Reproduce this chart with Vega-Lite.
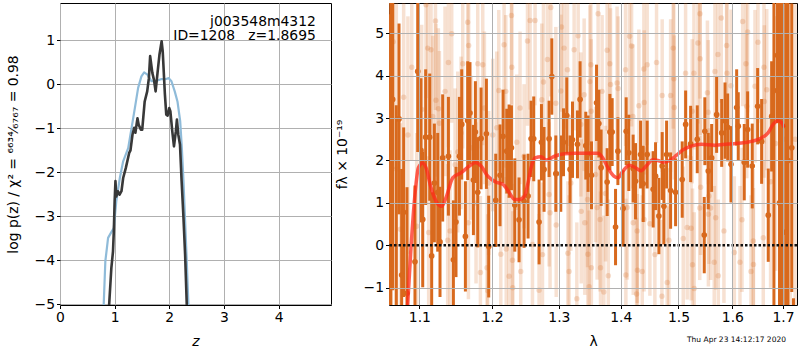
{
 "$schema": "https://vega.github.io/schema/vega-lite/v6.json",
 "padding": {"left": 5, "top": 2, "right": 0, "bottom": 0},
 "background": "white",
 "config": {
  "font": "DejaVu Sans",
  "view": {"stroke": "#000", "strokeWidth": 1},
  "axis": {"labelFont": "DejaVu Sans", "labelFontSize": 13.9, "labelColor": "#000", "titleFont": "DejaVu Sans", "titleFontSize": 13.9, "titleFontWeight": "normal", "titleColor": "#000", "tickColor": "#000", "tickSize": 3.5, "tickWidth": 1, "domain": false, "gridColor": "#b0b0b0", "gridWidth": 1, "labelPadding": 2, "labelFlush": false, "labelOverlap": false}
 },
 "datasets": {
  "blue": [
   {"z":0.79,"lp":-5.5},{"z":0.80,"lp":-5.0},{"z":0.83,"lp":-4.02},{"z":0.88,"lp":-3.49},{"z":0.94,"lp":-3.36},{"z":0.985,"lp":-3.27},{"z":1.03,"lp":-2.66},{"z":1.095,"lp":-2.13},{"z":1.156,"lp":-1.75},{"z":1.248,"lp":-1.45},{"z":1.31,"lp":-0.99},{"z":1.37,"lp":-0.54},{"z":1.43,"lp":-0.08},{"z":1.49,"lp":0.18},{"z":1.54,"lp":0.27},{"z":1.60,"lp":0.22},{"z":1.675,"lp":0.07},{"z":1.77,"lp":0.08},{"z":1.86,"lp":0.12},{"z":1.94,"lp":0.12},{"z":1.99,"lp":0.14},{"z":2.04,"lp":0.07},{"z":2.10,"lp":-0.16},{"z":2.15,"lp":-0.39},{"z":2.20,"lp":-0.84},{"z":2.23,"lp":-1.45},{"z":2.26,"lp":-2.2},{"z":2.29,"lp":-3.11},{"z":2.32,"lp":-4.02},{"z":2.35,"lp":-5.0},{"z":2.36,"lp":-5.5}
  ],
  "dark": [
   {"z":0.89,"lp":-5.5},{"z":0.90,"lp":-5.0},{"z":0.94,"lp":-4.17},{"z":0.97,"lp":-3.80},{"z":0.985,"lp":-3.34},{"z":1.00,"lp":-2.66},{"z":1.015,"lp":-2.2},{"z":1.03,"lp":-2.55},{"z":1.06,"lp":-2.43},{"z":1.09,"lp":-2.51},{"z":1.125,"lp":-2.43},{"z":1.156,"lp":-2.13},{"z":1.205,"lp":-1.90},{"z":1.266,"lp":-1.56},{"z":1.29,"lp":-1.5},{"z":1.327,"lp":-1.14},{"z":1.358,"lp":-0.99},{"z":1.38,"lp":-1.1},{"z":1.418,"lp":-0.77},{"z":1.44,"lp":-0.92},{"z":1.48,"lp":-1.03},{"z":1.505,"lp":-1.03},{"z":1.55,"lp":-0.39},{"z":1.596,"lp":-0.16},{"z":1.627,"lp":0.14},{"z":1.65,"lp":0.64},{"z":1.69,"lp":0.26},{"z":1.72,"lp":0.10},{"z":1.75,"lp":-0.16},{"z":1.785,"lp":0.26},{"z":1.82,"lp":0.67},{"z":1.86,"lp":0.98},{"z":1.88,"lp":0.75},{"z":1.92,"lp":-0.23},{"z":1.945,"lp":-0.69},{"z":1.97,"lp":-0.71},{"z":2.00,"lp":-0.54},{"z":2.02,"lp":-0.61},{"z":2.055,"lp":-1.07},{"z":2.086,"lp":-1.41},{"z":2.12,"lp":-1.07},{"z":2.14,"lp":-0.80},{"z":2.165,"lp":-1.14},{"z":2.196,"lp":-1.37},{"z":2.226,"lp":-2.2},{"z":2.257,"lp":-2.96},{"z":2.29,"lp":-3.87},{"z":2.32,"lp":-5.0},{"z":2.33,"lp":-5.5}
  ],
  "faint": [
   {"lam":1.0600,"f":2.5,"e":6},{"lam":1.0615,"f":1.0,"e":6},{"lam":1.0632,"f":-0.53,"e":4},{"lam":1.0660,"f":4.8,"e":3},{"lam":1.0700,"f":1.8,"e":4},{"lam":1.0753,"f":0.38,"e":2.5},{"lam":1.0795,"f":3.49,"e":2.5},{"lam":1.0850,"f":2.6,"e":2.8},{"lam":1.0900,"f":4.2,"e":2.2},{"lam":1.0965,"f":0.45,"e":2.2},
   {"lam":1.1030,"f":3.2,"e":2.0},{"lam":1.1087,"f":5.67,"e":2.2},{"lam":1.1110,"f":4.65,"e":2.0},{"lam":1.1123,"f":0.30,"e":1.8},{"lam":1.1154,"f":4.61,"e":2.0},{"lam":1.1177,"f":3.04,"e":1.9},{"lam":1.1214,"f":5.29,"e":2.1},{"lam":1.1220,"f":3.42,"e":1.8},{"lam":1.1253,"f":3.22,"e":1.9},{"lam":1.1267,"f":2.88,"e":1.7},
   {"lam":1.1343,"f":3.63,"e":2.0},{"lam":1.1379,"f":0.12,"e":1.8},{"lam":1.1389,"f":4.31,"e":2.0},{"lam":1.1411,"f":0.34,"e":1.9},{"lam":1.1434,"f":4.99,"e":2.1},{"lam":1.1480,"f":1.9,"e":1.8},{"lam":1.1517,"f":2.2,"e":1.9},{"lam":1.1563,"f":2.65,"e":1.8},{"lam":1.1586,"f":4.28,"e":2.0},{"lam":1.1655,"f":5.26,"e":2.2},
   {"lam":1.1665,"f":0.53,"e":1.8},{"lam":1.1668,"f":4.71,"e":2.0},{"lam":1.1702,"f":2.3,"e":1.7},{"lam":1.1772,"f":1.0,"e":1.9},{"lam":1.1796,"f":4.28,"e":2.0},{"lam":1.1834,"f":-0.64,"e":1.8},{"lam":1.1867,"f":4.26,"e":1.9},{"lam":1.1891,"f":3.24,"e":1.8},{"lam":1.1928,"f":-0.53,"e":1.9},{"lam":1.1938,"f":-1.07,"e":1.8},
   {"lam":1.1952,"f":1.47,"e":1.7},{"lam":1.2010,"f":2.6,"e":1.8},{"lam":1.2068,"f":2.77,"e":1.8},{"lam":1.2097,"f":3.65,"e":1.9},{"lam":1.2126,"f":-0.21,"e":1.8},{"lam":1.2174,"f":4.73,"e":2.0},{"lam":1.2199,"f":3.63,"e":1.8},{"lam":1.2205,"f":-0.09,"e":1.7},{"lam":1.2247,"f":-0.73,"e":1.9},{"lam":1.2282,"f":5.42,"e":2.1},
   {"lam":1.2287,"f":4.2,"e":1.9},{"lam":1.2297,"f":-0.35,"e":1.8},{"lam":1.2300,"f":-1.0,"e":1.8},{"lam":1.2360,"f":2.43,"e":1.6},{"lam":1.2409,"f":3.24,"e":1.8},{"lam":1.2419,"f":-0.62,"e":1.8},{"lam":1.2469,"f":2.10,"e":1.7},{"lam":1.2520,"f":4.82,"e":2.0},{"lam":1.2559,"f":5.3,"e":2.1},{"lam":1.2595,"f":0.02,"e":1.7},
   {"lam":1.2634,"f":5.3,"e":2.0},{"lam":1.2695,"f":-1.06,"e":1.8},{"lam":1.2736,"f":3.43,"e":1.8},{"lam":1.2747,"f":-0.22,"e":1.7},{"lam":1.2762,"f":3.85,"e":1.9},{"lam":1.2823,"f":4.38,"e":1.9},{"lam":1.2848,"f":1.2,"e":1.7},{"lam":1.2863,"f":0.77,"e":1.8},{"lam":1.2874,"f":5.61,"e":2.1},{"lam":1.2952,"f":3.35,"e":1.8},
   {"lam":1.2958,"f":0.48,"e":1.7},{"lam":1.3030,"f":3.64,"e":1.8},{"lam":1.3040,"f":5.15,"e":2.0},{"lam":1.3081,"f":4.65,"e":1.9},{"lam":1.3134,"f":4.14,"e":1.8},{"lam":1.3140,"f":-0.19,"e":1.7},{"lam":1.3159,"f":-0.62,"e":1.8},{"lam":1.3187,"f":1.47,"e":1.6},{"lam":1.3239,"f":4.61,"e":1.9},{"lam":1.3282,"f":-1.26,"e":1.8},
   {"lam":1.3303,"f":4.94,"e":2.0},{"lam":1.3346,"f":2.85,"e":1.7},{"lam":1.3352,"f":0.8,"e":1.7},{"lam":1.3399,"f":3.55,"e":1.8},{"lam":1.3410,"f":0.53,"e":1.7},{"lam":1.3453,"f":1.08,"e":1.6},{"lam":1.3459,"f":-0.21,"e":1.8},{"lam":1.3479,"f":-0.98,"e":1.8},{"lam":1.3490,"f":3.86,"e":1.8},{"lam":1.3507,"f":4.26,"e":1.9},
   {"lam":1.3512,"f":3.16,"e":1.7},{"lam":1.3515,"f":-0.53,"e":1.8},{"lam":1.3583,"f":1.67,"e":1.6},{"lam":1.3609,"f":0.89,"e":1.7},{"lam":1.3625,"f":5.46,"e":2.0},{"lam":1.3657,"f":0.61,"e":1.7},{"lam":1.3664,"f":-0.53,"e":1.8},{"lam":1.3690,"f":3.63,"e":1.8},{"lam":1.3718,"f":-1.1,"e":1.8},{"lam":1.3746,"f":1.22,"e":1.6},
   {"lam":1.3773,"f":4.6,"e":1.9},{"lam":1.3792,"f":-0.72,"e":1.8},{"lam":1.3817,"f":4.28,"e":1.8},{"lam":1.3829,"f":3.79,"e":1.8},{"lam":1.3938,"f":3.83,"e":1.8},{"lam":1.3955,"f":3.70,"e":1.7},{"lam":1.4080,"f":4.14,"e":1.8},{"lam":1.4085,"f":-0.70,"e":1.8},{"lam":1.4107,"f":0.89,"e":1.7},{"lam":1.4148,"f":4.93,"e":2.0},
   {"lam":1.4182,"f":4.70,"e":1.9},{"lam":1.4204,"f":3.04,"e":1.7},{"lam":1.4210,"f":0.53,"e":1.7},{"lam":1.4267,"f":-1.15,"e":1.8},{"lam":1.4277,"f":0.34,"e":1.7},{"lam":1.4282,"f":-0.59,"e":1.8},{"lam":1.4306,"f":3.29,"e":1.8},{"lam":1.4364,"f":-0.62,"e":1.8},{"lam":1.4392,"f":4.16,"e":1.8},{"lam":1.4395,"f":0.61,"e":1.7},
   {"lam":1.4398,"f":3.37,"e":1.7},{"lam":1.4449,"f":4.26,"e":1.9},{"lam":1.4496,"f":0.51,"e":1.7},{"lam":1.4583,"f":-0.22,"e":1.8},{"lam":1.4612,"f":4.31,"e":1.9},{"lam":1.4706,"f":-1.2,"e":1.8},{"lam":1.4711,"f":3.53,"e":1.8},{"lam":1.4800,"f":-0.88,"e":1.8},{"lam":1.4830,"f":0.12,"e":1.7},{"lam":1.4860,"f":3.53,"e":1.8},
   {"lam":1.4906,"f":4.65,"e":1.9},{"lam":1.4918,"f":3.93,"e":1.8},{"lam":1.4925,"f":3.25,"e":1.7},{"lam":1.5087,"f":0.16,"e":1.7},{"lam":1.5129,"f":4.06,"e":1.8},{"lam":1.5158,"f":0.42,"e":1.7},{"lam":1.5230,"f":0.40,"e":1.7},{"lam":1.5249,"f":3.16,"e":1.7},{"lam":1.5255,"f":-0.46,"e":1.8},{"lam":1.5281,"f":4.06,"e":1.8},
   {"lam":1.5287,"f":-1.02,"e":1.8},{"lam":1.5354,"f":4.77,"e":1.9},{"lam":1.5388,"f":0.88,"e":1.7},{"lam":1.5391,"f":5.46,"e":2.0},{"lam":1.5395,"f":4.40,"e":1.8},{"lam":1.5404,"f":1.37,"e":1.6},{"lam":1.5530,"f":3.6,"e":1.7},{"lam":1.5545,"f":3.14,"e":1.7},{"lam":1.5548,"f":0.73,"e":1.7},{"lam":1.5558,"f":1.16,"e":1.6},
   {"lam":1.5590,"f":0.88,"e":1.7},{"lam":1.5657,"f":-0.40,"e":1.8},{"lam":1.5670,"f":4.1,"e":1.8},{"lam":1.5684,"f":0.65,"e":1.7},{"lam":1.5727,"f":4.50,"e":1.8},{"lam":1.5733,"f":-0.72,"e":1.8},{"lam":1.5789,"f":5.36,"e":2.0},{"lam":1.5840,"f":0.34,"e":1.7},{"lam":1.5891,"f":4.71,"e":1.9},{"lam":1.5897,"f":4.06,"e":1.8},
   {"lam":1.5974,"f":3.76,"e":1.8},{"lam":1.6038,"f":-0.17,"e":1.8},{"lam":1.6147,"f":-0.40,"e":1.8},{"lam":1.6186,"f":0.6,"e":1.7},{"lam":1.6199,"f":5.28,"e":2.0},{"lam":1.6263,"f":4.28,"e":1.8},{"lam":1.6279,"f":3.28,"e":1.7},{"lam":1.6296,"f":5.03,"e":1.9},{"lam":1.6361,"f":-0.62,"e":1.8},{"lam":1.6406,"f":0.1,"e":1.7},
   {"lam":1.6410,"f":-0.45,"e":1.8},{"lam":1.6440,"f":3.75,"e":1.8},{"lam":1.6499,"f":4.79,"e":1.9},{"lam":1.6604,"f":0.18,"e":1.8},{"lam":1.6618,"f":4.2,"e":1.8},{"lam":1.6625,"f":3.39,"e":1.8},{"lam":1.6673,"f":3.67,"e":1.9},{"lam":1.6750,"f":1.5,"e":2.5},{"lam":1.6850,"f":2.4,"e":3.0},{"lam":1.6950,"f":1.0,"e":3.5},
   {"lam":1.7050,"f":2.5,"e":4.5},{"lam":1.7150,"f":2.0,"e":5},{"lam":1.7250,"f":2.5,"e":6}
  ],
  "solid": [
   {"lam":1.0612,"f":-0.55,"e":6.0},{"lam":1.0630,"f":7.0,"e":9.0},{"lam":1.0654,"f":3.44,"e":4.5},{"lam":1.0700,"f":-2.0,"e":5.3},{"lam":1.0735,"f":2.98,"e":2.25},{"lam":1.0769,"f":-0.70,"e":2.5},{"lam":1.0795,"f":0.78,"e":2.0},{"lam":1.0838,"f":-1.13,"e":2.5},{"lam":1.0942,"f":-0.39,"e":1.8},{"lam":1.0978,"f":4.10,"e":1.9},
   {"lam":1.1021,"f":2.24,"e":1.7},{"lam":1.1044,"f":0.61,"e":1.6},{"lam":1.1083,"f":2.55,"e":1.6},{"lam":1.1137,"f":2.55,"e":1.5},{"lam":1.1163,"f":-0.25,"e":1.5},{"lam":1.1199,"f":1.47,"e":1.4},{"lam":1.1244,"f":1.25,"e":1.4},{"lam":1.1275,"f":0.08,"e":1.3},{"lam":1.1311,"f":2.06,"e":1.5},{"lam":1.1389,"f":2.1,"e":1.4},
   {"lam":1.1457,"f":-0.34,"e":1.4},{"lam":1.1493,"f":0.55,"e":1.3},{"lam":1.1540,"f":2.1,"e":1.4},{"lam":1.1572,"f":2.85,"e":1.3},{"lam":1.1623,"f":0.21,"e":1.3},{"lam":1.1655,"f":2.94,"e":1.4},{"lam":1.1687,"f":3.12,"e":1.2},{"lam":1.1735,"f":1.54,"e":1.3},{"lam":1.1763,"f":2.67,"e":1.2},{"lam":1.1796,"f":1.25,"e":1.3},
   {"lam":1.1843,"f":2.52,"e":1.2},{"lam":1.1919,"f":2.63,"e":1.3},{"lam":1.1952,"f":-0.03,"e":1.2},{"lam":1.2053,"f":1.06,"e":1.1},{"lam":1.2115,"f":1.65,"e":1.2},{"lam":1.2159,"f":2.57,"e":1.1},{"lam":1.2213,"f":2.22,"e":1.0},{"lam":1.2247,"f":2.22,"e":1.1},{"lam":1.2282,"f":2.3,"e":1.0},{"lam":1.2331,"f":0.95,"e":1.1},
   {"lam":1.2394,"f":0.6,"e":1.0},{"lam":1.2469,"f":1.04,"e":1.1},{"lam":1.2529,"f":1.16,"e":1.0},{"lam":1.2574,"f":2.51,"e":0.9},{"lam":1.2614,"f":2.51,"e":1.0},{"lam":1.2695,"f":0.55,"e":1.0},{"lam":1.2731,"f":2.43,"e":0.9},{"lam":1.2771,"f":1.79,"e":1.0},{"lam":1.2848,"f":2.51,"e":0.9},{"lam":1.2890,"f":3.98,"e":0.9},
   {"lam":1.2952,"f":1.69,"e":0.9},{"lam":1.3029,"f":1.69,"e":0.9},{"lam":1.3072,"f":2.43,"e":0.8},{"lam":1.3123,"f":3.06,"e":0.9},{"lam":1.3175,"f":1.79,"e":0.8},{"lam":1.3213,"f":2.49,"e":0.9},{"lam":1.3292,"f":2.38,"e":0.8},{"lam":1.3334,"f":3.44,"e":0.9},{"lam":1.3425,"f":2.35,"e":0.8},{"lam":1.3462,"f":2.16,"e":0.9},
   {"lam":1.3517,"f":1.65,"e":0.8},{"lam":1.3599,"f":3.36,"e":0.9},{"lam":1.3637,"f":2.87,"e":0.8},{"lam":1.3674,"f":1.83,"e":0.9},{"lam":1.3773,"f":1.49,"e":0.8},{"lam":1.3818,"f":2.67,"e":0.9},{"lam":1.3856,"f":2.67,"e":0.8},{"lam":1.3912,"f":0.43,"e":0.9},{"lam":1.3951,"f":2.22,"e":0.8},{"lam":1.4039,"f":0.87,"e":0.9},
   {"lam":1.4090,"f":2.69,"e":0.8},{"lam":1.4135,"f":2.18,"e":0.9},{"lam":1.4208,"f":1.81,"e":0.8},{"lam":1.4249,"f":1.51,"e":0.9},{"lam":1.4335,"f":2.14,"e":0.8},{"lam":1.4380,"f":1.45,"e":0.9},{"lam":1.4449,"f":2.14,"e":0.8},{"lam":1.4553,"f":1.32,"e":0.9},{"lam":1.4595,"f":1.63,"e":0.8},{"lam":1.4653,"f":0.69,"e":0.9},
   {"lam":1.4711,"f":1.87,"e":0.8},{"lam":1.4741,"f":0.92,"e":0.9},{"lam":1.4789,"f":2.14,"e":0.8},{"lam":1.4860,"f":1.29,"e":0.9},{"lam":1.4949,"f":1.25,"e":0.8},{"lam":1.5068,"f":1.55,"e":0.9},{"lam":1.5130,"f":2.85,"e":0.8},{"lam":1.5221,"f":2.39,"e":0.9},{"lam":1.5342,"f":2.5,"e":0.8},{"lam":1.5471,"f":0.24,"e":0.9},
   {"lam":1.5482,"f":2.69,"e":0.8},{"lam":1.5545,"f":1.75,"e":0.9},{"lam":1.5609,"f":2.06,"e":0.8},{"lam":1.5702,"f":3.08,"e":0.9},{"lam":1.5797,"f":2.65,"e":0.8},{"lam":1.5860,"f":2.94,"e":0.9},{"lam":1.5911,"f":2.78,"e":0.8},{"lam":1.5974,"f":1.91,"e":0.9},{"lam":1.6083,"f":3.25,"e":0.9},{"lam":1.6114,"f":2.81,"e":0.8},
   {"lam":1.6230,"f":1.96,"e":0.9},{"lam":1.6296,"f":2.73,"e":0.9},{"lam":1.6386,"f":1.87,"e":1.0},{"lam":1.6492,"f":3.28,"e":0.9},{"lam":1.6571,"f":2.45,"e":1.0},{"lam":1.6703,"f":0.71,"e":1.1},{"lam":1.6771,"f":3.04,"e":1.3},{"lam":1.6817,"f":3.65,"e":5.5},{"lam":1.6887,"f":4.48,"e":1.6},{"lam":1.6930,"f":1.0,"e":6.0},
   {"lam":1.6988,"f":2.81,"e":6.0},{"lam":1.7057,"f":0.31,"e":6.0},{"lam":1.7102,"f":2.0,"e":6.0},{"lam":1.7180,"f":2.3,"e":3.4},{"lam":1.7215,"f":-1.7,"e":0.45}
  ],
  "model": [
   {"lam":1.0820,"f":-2.2},{"lam":1.0847,"f":-1.40},{"lam":1.0890,"f":-0.06},{"lam":1.0942,"f":1.20},{"lam":1.0987,"f":1.83},{"lam":1.1044,"f":1.94},{"lam":1.1087,"f":1.83},{"lam":1.1154,"f":1.36},{"lam":1.1235,"f":1.00},{"lam":1.1298,"f":0.92},{"lam":1.1356,"f":1.12},{"lam":1.1448,"f":1.59},{"lam":1.1562,"f":1.71},{"lam":1.1679,"f":1.87},{"lam":1.1763,"f":1.95},{"lam":1.1843,"f":1.87},{"lam":1.1938,"f":1.63},{"lam":1.2057,"f":1.49},{"lam":1.2155,"f":1.44},{"lam":1.2252,"f":1.24},{"lam":1.2326,"f":1.08},{"lam":1.2400,"f":1.08},{"lam":1.2475,"f":1.16},{"lam":1.2524,"f":1.44},{"lam":1.2574,"f":1.83},{"lam":1.2634,"f":2.06},{"lam":1.2726,"f":2.09},{"lam":1.2802,"f":2.01},{"lam":1.2932,"f":2.10},{"lam":1.3088,"f":2.16},{"lam":1.3246,"f":2.17},{"lam":1.3458,"f":2.17},{"lam":1.3620,"f":2.17},{"lam":1.3702,"f":2.06},{"lam":1.3785,"f":1.83},{"lam":1.3884,"f":1.63},{"lam":1.3951,"f":1.59},{"lam":1.4035,"f":1.75},{"lam":1.4148,"f":1.89},{"lam":1.4233,"f":1.84},{"lam":1.4346,"f":1.76},{"lam":1.4432,"f":1.87},{"lam":1.4549,"f":2.02},{"lam":1.4636,"f":2.00},{"lam":1.4724,"f":1.96},{"lam":1.4843,"f":2.00},{"lam":1.4961,"f":2.12},{"lam":1.5082,"f":2.25},{"lam":1.5232,"f":2.34},{"lam":1.5416,"f":2.38},{"lam":1.5666,"f":2.36},{"lam":1.5918,"f":2.39},{"lam":1.6174,"f":2.41},{"lam":1.6369,"f":2.45},{"lam":1.6566,"f":2.53},{"lam":1.6699,"f":2.65},{"lam":1.6800,"f":2.85},{"lam":1.6887,"f":2.94},{"lam":1.6968,"f":2.90},{"lam":1.7023,"f":2.78}
  ]
 },
 "hconcat": [
  {
   "width": 271,
   "height": 302,
   "layer": [
    {
     "data": {"name": "blue"},
     "mark": {"type": "line", "color": "#8fbbd9", "strokeWidth": 2.2, "strokeJoin": "round", "clip": true},
     "encoding": {
      "x": {"field": "z", "type": "quantitative", "title": "z", "scale": {"domain": [0, 4.96], "nice": false, "zero": false}, "axis": {"values": [0, 1, 2, 3, 4], "titleFontStyle": "italic", "grid": true, "titlePadding": 10}},
      "y": {"field": "lp", "type": "quantitative", "title": "log p(z) / χ² = ⁶⁶³⁴⁄₆₇₆₇ = 0.98", "scale": {"domain": [-5.016, 1.848], "nice": false, "zero": false}, "axis": {"values": [-5, -4, -3, -2, -1, 0, 1], "grid": true, "titlePadding": 14}}
     }
    },
    {
     "data": {"name": "dark"},
     "mark": {"type": "line", "color": "#383838", "strokeWidth": 2.6, "strokeJoin": "round", "clip": true},
     "encoding": {
      "x": {"field": "z", "type": "quantitative", "title": "z"},
      "y": {"field": "lp", "type": "quantitative", "title": "log p(z) / χ² = ⁶⁶³⁴⁄₆₇₆₇ = 0.98"}
     }
    },
    {
     "data": {"values": [{"label": "j003548m4312"}]},
     "mark": {"type": "text", "align": "right", "baseline": "alphabetic", "fontSize": 13.9, "font": "DejaVu Sans", "color": "#000"},
     "encoding": {"x": {"datum": 4.683}, "y": {"datum": 1.336}, "text": {"field": "label"}}
    },
    {
     "data": {"values": [{"label": "ID=1208\u00a0\u00a0\u00a0z=1.8695"}]},
     "mark": {"type": "text", "align": "right", "baseline": "alphabetic", "fontSize": 13.9, "font": "DejaVu Sans", "color": "#000"},
     "encoding": {"x": {"datum": 4.683}, "y": {"datum": 1.0}, "text": {"field": "label"}}
    }
   ]
  },
  {
   "width": 408,
   "height": 302,
   "layer": [
    {
     "data": {"name": "faint"},
     "mark": {"type": "errorbar", "color": "#d5691e", "opacity": 0.2, "thickness": 3.5, "clip": true},
     "encoding": {
      "x": {"field": "lam", "type": "quantitative", "title": "λ", "scale": {"type": "log", "domain": [1.0607, 1.7288], "nice": false}, "axis": {"values": [1.1, 1.2, 1.3, 1.4, 1.5, 1.6, 1.7], "format": ".1f", "grid": true, "zindex": 1, "titlePadding": 10}},
      "y": {"field": "f", "type": "quantitative", "title": "fλ × 10⁻¹⁹", "scale": {"domain": [-1.408, 5.714], "nice": false, "zero": false}, "axis": {"values": [-1, 0, 1, 2, 3, 4, 5], "grid": true, "zindex": 1, "titlePadding": 14, "gridColor": {"condition": {"test": "datum.value === 0", "value": "transparent"}, "value": "#b0b0b0"}}},
      "yError": {"field": "e"}
     }
    },
    {
     "data": {"name": "faint"},
     "mark": {"type": "circle", "color": "#d5691e", "opacity": 0.22, "size": 30, "clip": true},
     "encoding": {
      "x": {"field": "lam", "type": "quantitative", "title": "λ"},
      "y": {"field": "f", "type": "quantitative", "title": "fλ × 10⁻¹⁹"}
     }
    },
    {
     "data": {"name": "solid"},
     "mark": {"type": "errorbar", "color": "#d8691d", "thickness": 3, "clip": true},
     "encoding": {
      "x": {"field": "lam", "type": "quantitative", "title": "λ"},
      "y": {"field": "f", "type": "quantitative", "title": "fλ × 10⁻¹⁹"},
      "yError": {"field": "e"}
     }
    },
    {
     "data": {"name": "solid"},
     "mark": {"type": "circle", "color": "#d8691d", "opacity": 1, "size": 32, "clip": true},
     "encoding": {
      "x": {"field": "lam", "type": "quantitative", "title": "λ"},
      "y": {"field": "f", "type": "quantitative", "title": "fλ × 10⁻¹⁹"}
     }
    },
    {
     "data": {"name": "model"},
     "mark": {"type": "line", "color": "#ff2a1a", "opacity": 0.75, "strokeWidth": 3.5, "interpolate": "monotone", "clip": true},
     "encoding": {
      "x": {"field": "lam", "type": "quantitative", "title": "λ"},
      "y": {"field": "f", "type": "quantitative", "title": "fλ × 10⁻¹⁹"}
     }
    },
    {
     "data": {"values": [{"f": 0}]},
     "mark": {"type": "rule", "color": "#111", "strokeDash": [2.5, 2], "strokeWidth": 2.5},
     "encoding": {"y": {"field": "f", "type": "quantitative", "title": "fλ × 10⁻¹⁹"}}
    },
    {
     "data": {"values": [{"stamp": "Thu Apr 23 14:12:17 2020"}]},
     "mark": {"type": "text", "align": "right", "baseline": "middle", "fontSize": 7.5, "font": "DejaVu Sans", "color": "#000"},
     "encoding": {"x": {"datum": 1.7061}, "y": {"datum": -2.233}, "text": {"field": "stamp"}}
    }
   ]
  }
 ],
 "spacing": 58,
 "bounds": "flush"
}
